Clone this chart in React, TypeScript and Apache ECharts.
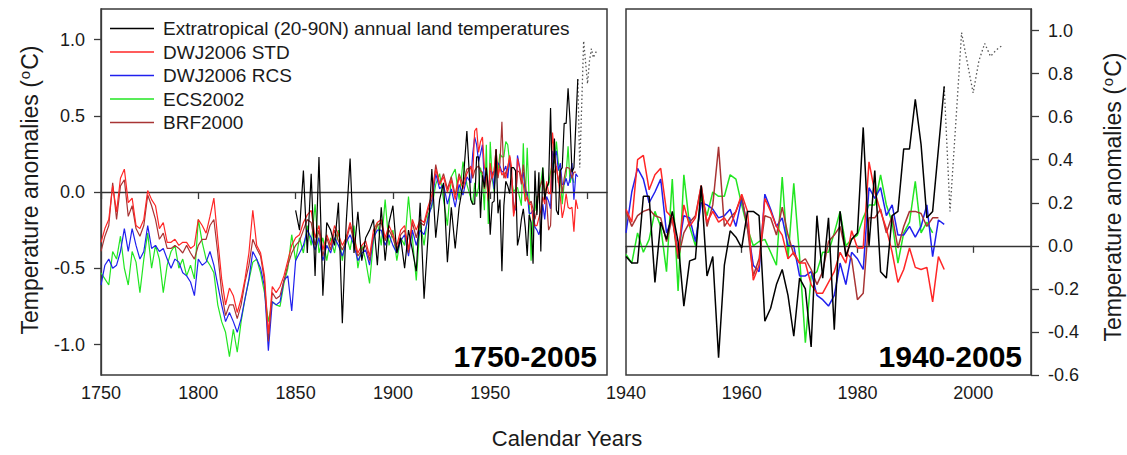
import React, { useEffect, useRef } from "react";
import * as echarts from "echarts";

const FONT = 'Arial, "Liberation Sans", Helvetica, sans-serif';
const TEXT = "#1a1a1a";
const FRAME = "#3a3a3a";

// ---- data ----
const EARLY_START = 1750; // proxies, every 2 years 1750-1938
const EARLY_STEP = 2;
const LATE_START = 1940; // annual from 1940
const BLACK_EARLY_START = 1850; // instrumental, every 2 years 1850-1938
const DOTTED_START = 1995;

const RED_EARLY = [
  -0.33, -0.24, -0.18, 0.04, -0.13, 0.09, 0.15, -0.07, -0.04, -0.22,
  -0.24, -0.18, 0.01, -0.05, -0.09, -0.24, -0.2, -0.33, -0.33, -0.31,
  -0.35, -0.33, -0.33, -0.37, -0.35, -0.18, -0.22, -0.27, -0.16, -0.04,
  -0.31, -0.57, -0.74, -0.63, -0.68, -0.79, -0.7, -0.57, -0.4, -0.12,
  -0.35, -0.4, -0.55, -0.93, -0.62, -0.66,
  -0.62, -0.55, -0.45, -0.35, -0.3, -0.28, -0.2, -0.15, -0.12, -0.3,
  -0.22, -0.38, -0.28, -0.35, -0.22, -0.28, -0.35, -0.3, -0.2, -0.3,
  -0.4, -0.35, -0.32, -0.42, -0.25, -0.2, -0.18, -0.3, -0.22, -0.28,
  -0.35, -0.25, -0.22, -0.38, -0.18, -0.25, -0.18, -0.2, -0.1, -0.02,
  0.15, 0.05, 0.1, 0.0, 0.08, -0.05, 0.1, 0.02, 0.12,
];
const RED_LATE = [
  0.17, 0.11, 0.4, 0.42, 0.26, 0.33, 0.36, 0.16, 0.13, -0.04,
  0.19, 0.09, 0.13, 0.28, 0.11, 0.16, 0.11, 0.13, 0.09, 0.16,
  0.24, 0.16, -0.16, -0.09, 0.22, 0.16, 0.09, 0.05, -0.06, -0.03,
  -0.08, -0.08, -0.18, -0.22, -0.22, -0.17, -0.12, -0.03, -0.08, 0.07,
  -0.01, -0.01, 0.39, 0.25, 0.16, 0.08, -0.03, -0.17, -0.11, -0.01,
  -0.1, -0.11, -0.1, -0.26, -0.05, -0.11,
];

const BLUE_EARLY = [
  -0.61, -0.48, -0.44, -0.5, -0.48, -0.39, -0.24, -0.39, -0.24, -0.35,
  -0.44, -0.39, -0.22, -0.37, -0.35, -0.39, -0.37, -0.44, -0.5, -0.44,
  -0.46, -0.53, -0.55, -0.59, -0.68, -0.44, -0.48, -0.46, -0.39, -0.48,
  -0.61, -0.74, -0.85, -0.79, -0.85, -0.92, -0.83, -0.7, -0.57, -0.39,
  -0.44, -0.5, -0.62, -1.04, -0.72, -0.74,
  -0.72, -0.58, -0.55, -0.78, -0.45, -0.4, -0.35, -0.25, -0.3, -0.38,
  -0.3, -0.45, -0.35, -0.4, -0.3, -0.35, -0.42, -0.33, -0.28, -0.35,
  -0.45, -0.4, -0.38, -0.48, -0.3, -0.25, -0.25, -0.35, -0.28, -0.35,
  -0.4, -0.32, -0.28, -0.42, -0.25, -0.35, -0.25, -0.28, -0.18, -0.08,
  0.12, 0.02, 0.05, -0.08, 0.02, -0.1, 0.05, -0.02, 0.1,
];
const BLUE_LATE = [
  0.06, 0.25, 0.36, 0.31, 0.2, 0.25, 0.31, 0.06, 0.13, -0.03,
  0.14, 0.13, 0.02, 0.2, 0.19, 0.17, 0.13, 0.14, 0.17, 0.09,
  0.22, 0.09, -0.09, -0.12, 0.24, 0.17, 0.09, 0.13, 0.0, 0.0,
  -0.14, -0.14, -0.12, -0.23, -0.25, -0.28, -0.23, -0.08, -0.18, -0.03,
  -0.06, -0.11, 0.27, 0.22, 0.27, 0.14, 0.19, 0.05, 0.05, 0.09,
  0.04, 0.09, 0.19, -0.05, 0.12, 0.1,
];

const GREEN_EARLY = [
  -0.53, -0.57, -0.61, -0.39, -0.44, -0.29, -0.5, -0.61, -0.39, -0.46,
  -0.66, -0.44, -0.27, -0.5, -0.35, -0.44, -0.66, -0.48, -0.39, -0.35,
  -0.5, -0.44, -0.55, -0.48, -0.57, -0.18, -0.33, -0.44, -0.48, -0.53,
  -0.74, -0.85, -0.92, -1.08, -0.9, -1.05, -0.85, -0.7, -0.58, -0.46,
  -0.44, -0.53, -0.66, -0.85, -0.72, -0.74,
  -0.75, -0.6, -0.5, -0.28, -0.45, -0.3, -0.4, -0.22, -0.35, -0.08,
  -0.4, -0.3, -0.45, -0.3, -0.4, -0.25, -0.45, -0.28, -0.38, -0.22,
  -0.5, -0.35, -0.45, -0.6, -0.32, -0.2, -0.35, -0.05, -0.35, -0.25,
  -0.45, -0.3, -0.35, -0.03, -0.3, -0.58, -0.2, -0.35, -0.15, -0.1,
  0.05, 0.12, -0.05, -0.22, 0.1, 0.15, -0.05, 0.2, 0.05,
];
const GREEN_LATE = [
  -0.04, -0.08, 0.06, -0.03, 0.03, 0.16, 0.09, -0.12, 0.31, -0.21,
  0.33, 0.09, 0.0, 0.23, 0.14, 0.25, 0.23, 0.23, 0.33, 0.31,
  0.19, 0.08, 0.0, 0.02, 0.03, -0.03, -0.09, 0.32, -0.06, 0.29,
  -0.05, -0.45, -0.14, -0.12, -0.03, -0.03, 0.06, 0.16, 0.0, 0.03,
  0.05, 0.13, 0.19, 0.19, 0.33, 0.19, 0.11, -0.08, 0.06, 0.11,
  0.3, 0.06, 0.11, 0.06,
];

const BROWN_EARLY = [
  -0.39, -0.29, -0.22, 0.06, -0.18, 0.04, 0.08, -0.16, -0.09, -0.24,
  -0.29, -0.22, -0.02, -0.09, -0.18, -0.31, -0.27, -0.37, -0.37, -0.35,
  -0.37, -0.4, -0.35, -0.4, -0.44, -0.35, -0.31, -0.31, -0.22, -0.18,
  -0.4, -0.66, -0.81, -0.74, -0.74, -0.83, -0.74, -0.59, -0.48, -0.31,
  -0.37, -0.42, -0.58, -0.98, -0.66, -0.7,
  -0.68, -0.58, -0.48, -0.4, -0.35, -0.32, -0.25, -0.18, -0.2, -0.35,
  -0.25, -0.42, -0.3, -0.38, -0.25, -0.32, -0.38, -0.32, -0.22, -0.33,
  -0.42, -0.38, -0.35, -0.45, -0.28, -0.22, -0.2, -0.32, -0.25, -0.3,
  -0.38, -0.28, -0.25, -0.4, -0.2, -0.3, -0.2, -0.22, -0.12, -0.05,
  0.18, 0.05, 0.12, 0.02, 0.1, -0.02, 0.12, 0.05, 0.15,
];
const BROWN_LATE = [
  0.16, 0.09, 0.14, 0.16, 0.17, 0.14, 0.13, 0.02, 0.13, -0.06,
  0.06, 0.11, 0.14, 0.28, 0.09, 0.19, 0.46, 0.09, 0.13, 0.16,
  0.23, 0.08, -0.14, -0.06, 0.14, 0.13, 0.05, 0.18, 0.05, -0.04,
  -0.08, -0.06, -0.11, -0.18, -0.12, 0.02, 0.05, 0.09, -0.03, -0.06,
  -0.25, -0.22, 0.13, 0.13, 0.17, 0.06, 0.14, -0.01, 0.09, 0.16,
  0.16, 0.15, 0.09, 0.13, 0.13,
];

const BLACK_EARLY = [
  -0.12, -0.25, 0.14, -0.4, 0.12, -0.55, 0.23, -0.68, -0.2, -0.25,
  -0.35, -0.07, -0.86, -0.2, 0.22, -0.4, -0.13, -0.45, -0.3, -0.25,
  -0.18, -0.48, -0.1, -0.45, -0.2, -0.09, -0.4, -0.3, -0.5, -0.25,
  -0.38, -0.52, -0.07, -0.7, -0.3, 0.15, -0.3, -0.05, 0.06, -0.46,
  -0.1, -0.37, -0.1, 0.05, 0.4,
];
const BLACK_LATE = [
  -0.05, -0.08, -0.08, 0.23, 0.23, -0.17, 0.11, 0.03, 0.16, 0.02,
  -0.28, -0.07, -0.06, 0.28, -0.14, -0.05, -0.52, -0.09, 0.07, 0.04,
  -0.01, 0.16, 0.16, 0.14, -0.35, -0.29, -0.18, -0.11, -0.23, -0.42,
  -0.15, -0.2, -0.47, 0.14, -0.15, 0.13, -0.39, 0.16, -0.05, 0.03,
  0.06, 0.55, 0.0, 0.35, -0.12, -0.15, 0.14, 0.16, 0.45, 0.45,
  0.68, 0.47, 0.13, 0.16, 0.45, 0.74,
];
const BLACK_DOTTED = [0.74, 0.16, 0.57, 0.99, 0.85, 0.71, 0.86, 0.94, 0.88, 0.91, 0.93];

const X_TICKS_LEFT = [1750, 1800, 1850, 1900, 1950, 2000];
const X_LABELS_LEFT = [1750, 1800, 1850, 1900, 1950];
const X_TICKS_RIGHT = [1940, 1960, 1980, 2000];
const Y_TICKS_LEFT = [-1.0, -0.5, 0.0, 0.5, 1.0];
const Y_TICKS_RIGHT = [-0.6, -0.4, -0.2, 0.0, 0.2, 0.4, 0.6, 0.8, 1.0];

const NAME_BLACK = "Extratropical (20-90N) annual land temperatures";
const NAME_RED = "DWJ2006 STD";
const NAME_BLUE = "DWJ2006 RCS";
const NAME_GREEN = "ECS2002";
const NAME_BROWN = "BRF2000";

const COLOR_BLACK = "#000000";
const COLOR_RED = "#ff2626";
const COLOR_BLUE = "#2020ee";
const COLOR_GREEN = "#22e622";
const COLOR_BROWN = "#a83434";

function pairs(start: number, step: number, values: number[]) {
  return values.map((v, i) => [start + i * step, v]);
}

function buildOption() {
  const proxies = [
    { name: NAME_GREEN, color: COLOR_GREEN, early: GREEN_EARLY, late: GREEN_LATE },
    { name: NAME_BLUE, color: COLOR_BLUE, early: BLUE_EARLY, late: BLUE_LATE },
    { name: NAME_BROWN, color: COLOR_BROWN, early: BROWN_EARLY, late: BROWN_LATE },
    { name: NAME_RED, color: COLOR_RED, early: RED_EARLY, late: RED_LATE },
  ];
  const series: any[] = [];
  const zeroLine = {
    silent: true,
    symbol: "none",
    label: { show: false },
    lineStyle: { color: "#333", width: 1.2, type: "solid" },
    data: [{ yAxis: 0 }],
  };
  [0, 1].forEach((p) => {
    const w = p === 0 ? 1.2 : 1.5;
    proxies.forEach((s, k) => {
      const late = pairs(LATE_START, 1, s.late);
      const data = p === 0 ? pairs(EARLY_START, EARLY_STEP, s.early).concat(late) : late;
      series.push({
        type: "line",
        name: s.name,
        xAxisIndex: p,
        yAxisIndex: p,
        data,
        symbol: "none",
        showSymbol: false,
        color: s.color,
        lineStyle: { color: s.color, width: w },
        z: 2 + k,
        markLine: k === 0 ? zeroLine : undefined,
      });
    });
    const blackLate = pairs(LATE_START, 1, BLACK_LATE);
    series.push({
      type: "line",
      name: NAME_BLACK,
      xAxisIndex: p,
      yAxisIndex: p,
      data: p === 0 ? pairs(BLACK_EARLY_START, EARLY_STEP, BLACK_EARLY).concat(blackLate) : blackLate,
      symbol: "none",
      showSymbol: false,
      color: COLOR_BLACK,
      lineStyle: { color: COLOR_BLACK, width: w },
      z: 8,
    });
    series.push({
      type: "line",
      name: "dotted",
      xAxisIndex: p,
      yAxisIndex: p,
      data: pairs(DOTTED_START, 1, BLACK_DOTTED),
      symbol: "none",
      showSymbol: false,
      color: "#444",
      lineStyle: { color: "#555", width: 1.3, type: [1.5, 2.5] },
      z: 7,
    });
  });

  const tickStyle = { color: FRAME, width: 1.3 };
  const labelBase = { fontFamily: FONT, fontSize: 18, color: TEXT };

  const yTitle = (x: number, y: number) => ({
    type: "text",
    x,
    y,
    rotation: Math.PI / 2,
    style: {
      text: "Temperature anomalies ({s|o}C)",
      font: `23px ${FONT}`,
      fontSize: 23,
      fontFamily: FONT,
      fill: TEXT,
      align: "center",
      verticalAlign: "middle",
      textAlign: "center",
      textVerticalAlign: "middle",
      rich: {
        s: { fontSize: 15, fontFamily: FONT, fill: TEXT, padding: [0, 1, 12, 1] },
      },
    },
  });

  return {
    animation: false,
    backgroundColor: "#ffffff",
    grid: [
      { left: 101, top: 9, width: 506, height: 366, show: true, borderColor: FRAME, borderWidth: 1.5 },
      { left: 626, top: 9, width: 405, height: 366, show: true, borderColor: FRAME, borderWidth: 1.5 },
    ],
    legend: {
      orient: "vertical",
      left: 105,
      top: 14,
      icon: "rect",
      itemWidth: 44,
      itemHeight: 1.6,
      itemGap: 4.5,
      selectedMode: false,
      data: [NAME_BLACK, NAME_RED, NAME_BLUE, NAME_GREEN, NAME_BROWN],
      textStyle: { fontFamily: FONT, fontSize: 19, color: TEXT, padding: [0, 0, 0, 4] },
    },
    xAxis: [
      {
        type: "value",
        gridIndex: 0,
        min: 1750,
        max: 2010,
        interval: 50,
        axisLine: { show: true, lineStyle: tickStyle },
        axisTick: { show: true, length: 7, lineStyle: tickStyle, customValues: X_TICKS_LEFT },
        axisLabel: {
          ...labelBase,
          margin: 9,
          customValues: X_LABELS_LEFT,
          formatter: (v: number) => (v <= 1950 ? String(v) : ""),
        },
        splitLine: { show: false },
      },
      {
        type: "value",
        gridIndex: 1,
        min: 1940,
        max: 2010,
        interval: 20,
        axisLine: { show: true, lineStyle: tickStyle },
        axisTick: { show: true, length: 7, lineStyle: tickStyle, customValues: X_TICKS_RIGHT },
        axisLabel: {
          ...labelBase,
          margin: 9,
          customValues: X_TICKS_RIGHT,
          formatter: (v: number) => (v <= 2000 ? String(v) : ""),
        },
        splitLine: { show: false },
      },
    ],
    yAxis: [
      {
        type: "value",
        gridIndex: 0,
        min: -1.2,
        max: 1.2,
        axisLine: { show: true, lineStyle: tickStyle },
        axisTick: { show: true, length: 7, lineStyle: tickStyle, customValues: Y_TICKS_LEFT },
        axisLabel: {
          ...labelBase,
          margin: 16,
          customValues: Y_TICKS_LEFT,
          formatter: (v: number) => v.toFixed(1),
        },
        splitLine: { show: false },
      },
      {
        type: "value",
        gridIndex: 1,
        position: "right",
        min: -0.6,
        max: 1.1,
        axisLine: { show: true, lineStyle: tickStyle },
        axisTick: { show: true, length: 8, lineStyle: tickStyle, customValues: Y_TICKS_RIGHT },
        axisLabel: {
          ...labelBase,
          margin: 17,
          customValues: Y_TICKS_RIGHT,
          formatter: (v: number) => v.toFixed(1),
        },
        splitLine: { show: false },
      },
    ],
    graphic: [
      {
        type: "text",
        x: 597,
        y: 356,
        style: {
          text: "1750-2005",
          font: `bold 30px ${FONT}`,
          fill: "#000",
          align: "right",
          verticalAlign: "middle",
          textAlign: "right",
          textVerticalAlign: "middle",
        },
      },
      {
        type: "text",
        x: 1022,
        y: 356,
        style: {
          text: "1940-2005",
          font: `bold 30px ${FONT}`,
          fill: "#000",
          align: "right",
          verticalAlign: "middle",
          textAlign: "right",
          textVerticalAlign: "middle",
        },
      },
      {
        type: "text",
        x: 567,
        y: 438,
        style: {
          text: "Calendar Years",
          font: `22px ${FONT}`,
          fill: TEXT,
          align: "center",
          verticalAlign: "middle",
          textAlign: "center",
          textVerticalAlign: "middle",
        },
      },
      yTitle(30, 190),
      yTitle(1113, 197),
    ],
    series,
  };
}

export default function App() {
  const ref = useRef<HTMLDivElement>(null);
  useEffect(() => {
    if (!ref.current) return;
    const chart = echarts.init(ref.current, undefined, { renderer: "svg" });
    chart.setOption(buildOption() as any);
    return () => chart.dispose();
  }, []);
  return (
    <div
      ref={ref}
      style={{ position: "absolute", left: 0, top: 0, width: 1127, height: 455, background: "#fff" }}
    />
  );
}
